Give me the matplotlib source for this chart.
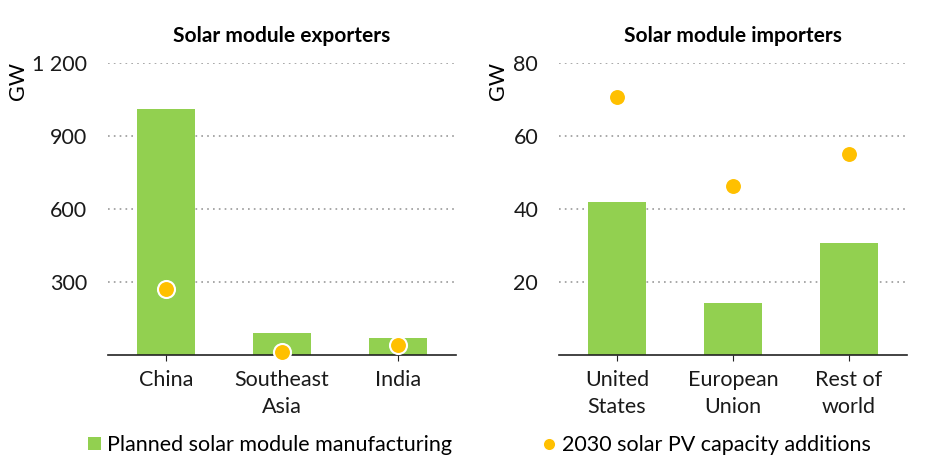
import matplotlib.pyplot as plt
from matplotlib.lines import Line2D
from matplotlib.patches import Patch
from matplotlib.ticker import FuncFormatter

plt.rcParams['font.family'] = ['Lato', 'DejaVu Sans']

# Datos
exporters = ["China", "Southeast\nAsia", "India"]
exp_manufacturing = [1010, 90, 70]
exp_additions = [270, 12, 41]

importers = ["United\nStates", "European\nUnion", "Rest of\nworld"]
imp_manufacturing = [42, 14.2, 30.7]
imp_additions = [70.7, 46.3, 55]

GREEN = "#92D050"
ORANGE = "#FFC000"
FS = 15.5

fig = plt.figure(figsize=(9.41, 4.62), dpi=100)
ax1 = fig.add_axes([108 / 941, 107 / 462, 348 / 941, 292 / 462])
ax2 = fig.add_axes([559 / 941, 107 / 462, 348 / 941, 292 / 462])


def draw_panel(ax, cats, bars, dots, ymax, step, title):
    x = range(len(cats))
    ax.bar(x, bars, width=0.5, color=GREEN, zorder=2)
    ax.scatter(x, dots, s=150, color=ORANGE, edgecolor="white", linewidth=1.5, zorder=3, clip_on=False)
    ax.set_xlim(-0.5, len(cats) - 0.5)
    ax.set_ylim(0, ymax)
    ax.set_yticks(range(step, ymax + 1, step))
    ax.yaxis.set_major_formatter(FuncFormatter(lambda v, p: f"{int(v):,}".replace(",", " ")))
    ax.grid(axis="y", color="#999999", linestyle=(0, (1, 2.5)), linewidth=1.2, zorder=0)
    for s in ["top", "right", "left"]:
        ax.spines[s].set_visible(False)
    ax.spines["bottom"].set_color("#222222")
    ax.spines["bottom"].set_linewidth(1.2)
    ax.set_xticks(list(x))
    ax.set_xticklabels(cats, linespacing=1.4)
    ax.tick_params(axis="y", length=0, pad=15, labelsize=FS, labelcolor="#1a1a1a")
    ax.tick_params(axis="x", length=4, width=0.8, color="#222222", pad=7, labelsize=FS,
                   labelcolor="#1a1a1a")
    ax.set_title(title, fontsize=FS - 0.5, fontweight="bold", pad=15)


draw_panel(ax1, exporters, exp_manufacturing, exp_additions, 1200, 300, "Solar module exporters")
draw_panel(ax2, importers, imp_manufacturing, imp_additions, 80, 20, "Solar module importers")

fig.text(18 / 941, 1 - 81 / 462, "GW", rotation=90, ha="center", va="center", fontsize=FS)
fig.text(498 / 941, 1 - 81 / 462, "GW", rotation=90, ha="center", va="center", fontsize=FS)

h_bar = Patch(facecolor=GREEN, label="Planned solar module manufacturing")
h_dot = Line2D([], [], marker="o", linestyle="none", markersize=9, markerfacecolor=ORANGE,
               markeredgecolor="white", label="2030 solar PV capacity additions")
for h, x0 in [(h_bar, 88), (h_dot, 543)]:
    fig.legend(handles=[h], loc="center left", bbox_to_anchor=(x0 / 941, 1 - 445 / 462),
               frameon=False, fontsize=FS, handlelength=0.6, handleheight=0.6,
               handletextpad=0.3, borderaxespad=0, borderpad=0)

fig.savefig("out.png", dpi=100)
